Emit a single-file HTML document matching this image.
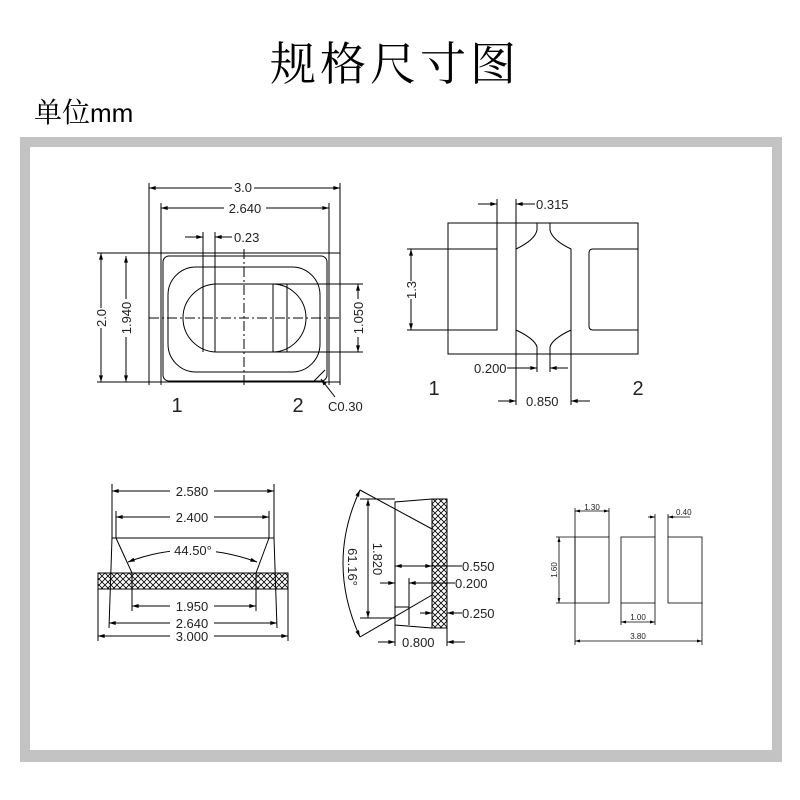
<!DOCTYPE html>
<html><head><meta charset="utf-8"><style>
html,body{margin:0;padding:0;background:#fff;width:800px;height:800px;overflow:hidden}
svg{display:block}
.t{font-family:"Liberation Sans",sans-serif;font-size:13px;fill:#222}
.s{font-family:"Liberation Sans",sans-serif;font-size:8px;fill:#222}
</style></head><body>
<svg width="800" height="800" viewBox="0 0 800 800" xmlns="http://www.w3.org/2000/svg">
<defs>
<marker id="a" viewBox="0 0 10 6" refX="10" refY="3" markerWidth="9" markerHeight="4" orient="auto-start-reverse" markerUnits="userSpaceOnUse"><path d="M0,0L10,3L0,6z" fill="#000"/></marker>
<marker id="b" viewBox="0 0 10 6" refX="10" refY="3" markerWidth="6" markerHeight="3" orient="auto-start-reverse" markerUnits="userSpaceOnUse"><path d="M0,0L10,3L0,6z" fill="#000"/></marker>
<pattern id="h" width="6" height="6" patternUnits="userSpaceOnUse"><path d="M0,0L6,6M6,0L0,6" stroke="#000" stroke-width="0.8"/></pattern>
</defs>
<text x="395" y="80" text-anchor="middle" style="font-family:'Noto Serif CJK SC',serif;font-size:46px;letter-spacing:4px" fill="#000">规格尺寸图</text>
<text x="34" y="122" style="font-family:'Noto Serif CJK SC',serif;font-size:28px" fill="#000">单位<tspan style="font-family:'Liberation Sans Narrow','Liberation Sans',sans-serif;font-size:26px">mm</tspan></text>
<rect x="25" y="142" width="752" height="614" fill="none" stroke="#c3c3c3" stroke-width="10"/>
<rect x="20" y="750" width="762" height="12" fill="#c3c3c3"/>

<g stroke="#000" stroke-width="1" fill="none">
<line x1="149" y1="183" x2="149" y2="385"/><line x1="340" y1="183" x2="340" y2="385"/>
<line x1="161" y1="203" x2="161" y2="385"/><line x1="329" y1="203" x2="329" y2="385"/>
<line x1="97" y1="253" x2="340" y2="253"/><line x1="97" y1="382" x2="340" y2="382"/>
<line x1="149" y1="188" x2="340" y2="188" marker-start="url(#a)" marker-end="url(#a)"/>
<line x1="161" y1="208" x2="329" y2="208" marker-start="url(#a)" marker-end="url(#a)"/>
<line x1="101" y1="253" x2="101" y2="382" marker-start="url(#a)" marker-end="url(#a)"/>
<line x1="126" y1="256" x2="126" y2="382" marker-start="url(#a)" marker-end="url(#a)"/>
<rect x="163" y="256" width="164" height="125" rx="6"/>
<rect x="168" y="267" width="152" height="105" rx="28"/>
<rect x="183" y="284" width="123" height="68" rx="34"/>
<line x1="203" y1="232" x2="203" y2="352"/><line x1="215" y1="232" x2="215" y2="352"/>
<line x1="273" y1="284" x2="273" y2="352"/><line x1="287" y1="284" x2="287" y2="352"/>
<line x1="185" y1="237" x2="203" y2="237" marker-end="url(#a)"/><line x1="232" y1="237" x2="215" y2="237" marker-end="url(#a)"/>
<line x1="244" y1="249" x2="244" y2="386" stroke-dasharray="10,3,2,3"/>
<line x1="149" y1="318" x2="340" y2="318" stroke-dasharray="10,3,2,3"/>
<line x1="215" y1="284" x2="363" y2="284"/><line x1="258" y1="352" x2="363" y2="352"/>
<line x1="358" y1="284" x2="358" y2="352" marker-start="url(#a)" marker-end="url(#a)"/>
<line x1="335" y1="397" x2="321" y2="379" marker-end="url(#a)"/>
<line x1="314" y1="381" x2="325" y2="370"/>
</g>
<g class="t">
<rect x="232" y="181" width="22" height="12" fill="#fff"/><text x="243" y="192" text-anchor="middle">3.0</text>
<rect x="224" y="202" width="42" height="12" fill="#fff"/><text x="245" y="213" text-anchor="middle">2.640</text>
<text x="234" y="242">0.23</text>
<g transform="translate(106,318) rotate(-90)"><rect x="-10" y="-7" width="20" height="12" fill="#fff"/><text x="0" y="0" text-anchor="middle">2.0</text></g>
<g transform="translate(131,318) rotate(-90)"><rect x="-19" y="-7" width="38" height="12" fill="#fff"/><text x="0" y="0" text-anchor="middle">1.940</text></g>
<g transform="translate(363,318) rotate(-90)"><rect x="-19" y="-7" width="38" height="12" fill="#fff"/><text x="0" y="0" text-anchor="middle">1.050</text></g>
<text x="328" y="411">C0.30</text>
<text x="177" y="412" text-anchor="middle" style="font-size:20px;font-weight:100">1</text>
<text x="298" y="412" text-anchor="middle" style="font-size:20px">2</text>
</g>

<g stroke="#000" stroke-width="1" fill="none">
<rect x="448" y="223" width="190" height="131"/>
<path d="M448,249 L497,249 L497,330 L448,330"/>
<path d="M638,249 L593,249 Q589,249 589,253 L589,326 Q589,330 593,330 L638,330"/>
<path d="M537,223 L537,230 Q535,240 516,249 L516,330 Q535,339 537,347 L537,354"/>
<path d="M550,223 L550,230 Q552,240 571,249 L571,330 Q552,339 550,347 L550,354"/>
<line x1="497" y1="199" x2="497" y2="249"/><line x1="516" y1="199" x2="516" y2="405"/>
<line x1="571" y1="330" x2="571" y2="405"/>
<line x1="478" y1="204" x2="497" y2="204" marker-end="url(#a)"/><line x1="535" y1="204" x2="516" y2="204" marker-end="url(#a)"/>
<line x1="407" y1="249" x2="497" y2="249"/><line x1="407" y1="330" x2="497" y2="330"/>
<line x1="411" y1="249" x2="411" y2="330" marker-start="url(#a)" marker-end="url(#a)"/>
<line x1="537" y1="354" x2="537" y2="372"/><line x1="550" y1="354" x2="550" y2="372"/>
<line x1="507" y1="368" x2="537" y2="368" marker-end="url(#a)"/><line x1="568" y1="368" x2="550" y2="368" marker-end="url(#a)"/>
<line x1="498" y1="401" x2="516" y2="401" marker-end="url(#a)"/><line x1="590" y1="401" x2="571" y2="401" marker-end="url(#a)"/>
</g>
<g class="t">
<text x="536" y="209">0.315</text>
<g transform="translate(416,290) rotate(-90)"><rect x="-9" y="-7" width="18" height="12" fill="#fff"/><text x="0" y="0" text-anchor="middle">1.3</text></g>
<text x="474" y="373">0.200</text>
<rect x="523" y="395" width="40" height="12" fill="#fff"/><text x="526" y="406">0.850</text>
<text x="434" y="395" text-anchor="middle" style="font-size:20px">1</text>
<text x="638" y="395" text-anchor="middle" style="font-size:20px">2</text>
</g>

<g stroke="#000" stroke-width="1" fill="none">
<rect x="98" y="573" width="190" height="16" fill="url(#h)"/>
<line x1="112" y1="484" x2="112" y2="538"/><line x1="274" y1="484" x2="274" y2="538"/>
<line x1="116" y1="511" x2="116" y2="538"/><line x1="269" y1="511" x2="269" y2="538"/>
<line x1="112" y1="538" x2="274" y2="538"/>
<line x1="112" y1="538" x2="109" y2="628"/><line x1="274" y1="538" x2="277" y2="628"/>
<line x1="116" y1="538" x2="132" y2="573"/><line x1="269" y1="538" x2="256" y2="573"/>
<line x1="132" y1="573" x2="132" y2="611"/><line x1="256" y1="573" x2="256" y2="611"/>
<line x1="98" y1="589" x2="98" y2="641"/><line x1="288" y1="589" x2="288" y2="641"/>
<line x1="112" y1="491" x2="274" y2="491" marker-start="url(#a)" marker-end="url(#a)"/>
<line x1="116" y1="517" x2="269" y2="517" marker-start="url(#a)" marker-end="url(#a)"/>
<path d="M128,562 Q190,538 257,562" marker-start="url(#a)" marker-end="url(#a)"/>
<line x1="132" y1="606" x2="256" y2="606" marker-start="url(#a)" marker-end="url(#a)"/>
<line x1="109" y1="623" x2="277" y2="623" marker-start="url(#a)" marker-end="url(#a)"/>
<line x1="98" y1="636" x2="288" y2="636" marker-start="url(#a)" marker-end="url(#a)"/>
</g>
<g class="t">
<rect x="170" y="485" width="44" height="12" fill="#fff"/><text x="192" y="496" text-anchor="middle">2.580</text>
<rect x="170" y="511" width="44" height="12" fill="#fff"/><text x="192" y="522" text-anchor="middle">2.400</text>
<rect x="170" y="544" width="46" height="12" fill="#fff"/><text x="193" y="555" text-anchor="middle">44.50°</text>
<rect x="170" y="600" width="44" height="12" fill="#fff"/><text x="192" y="611" text-anchor="middle">1.950</text>
<rect x="170" y="617" width="44" height="12" fill="#fff"/><text x="192" y="628" text-anchor="middle">2.640</text>
<rect x="170" y="630" width="44" height="12" fill="#fff"/><text x="192" y="641" text-anchor="middle">3.000</text>
</g>

<g stroke="#000" stroke-width="1" fill="none">
<rect x="432" y="499" width="15" height="129" fill="url(#h)"/>
<path d="M432,499 L395,502 L395,625 L432,628"/>
<line x1="360" y1="490" x2="432" y2="529"/>
<line x1="360" y1="637" x2="432" y2="595"/>
<path d="M360,490 Q326,563 360,637" marker-start="url(#a)" marker-end="url(#a)"/>
<line x1="360" y1="499" x2="395" y2="499"/><line x1="360" y1="618" x2="395" y2="618"/>
<line x1="368" y1="499" x2="368" y2="618" marker-start="url(#a)" marker-end="url(#a)"/>
<path d="M395,607 L409,607 L409,578"/><line x1="409" y1="607" x2="409" y2="625"/>
<line x1="395" y1="566" x2="432" y2="566" marker-start="url(#a)" marker-end="url(#a)"/>
<line x1="432" y1="566" x2="462" y2="566"/>
<line x1="380" y1="583" x2="395" y2="583" marker-end="url(#a)"/><line x1="424" y1="583" x2="409" y2="583" marker-end="url(#a)"/>
<line x1="409" y1="583" x2="455" y2="583"/>
<line x1="420" y1="613" x2="432" y2="613" marker-end="url(#a)"/><line x1="462" y1="613" x2="447" y2="613" marker-end="url(#a)"/>
<line x1="395" y1="625" x2="395" y2="646"/><line x1="447" y1="628" x2="447" y2="646"/>
<line x1="378" y1="642" x2="395" y2="642" marker-end="url(#a)"/><line x1="465" y1="642" x2="447" y2="642" marker-end="url(#a)"/>
</g>
<g class="t">
<g transform="translate(373,559) rotate(90)"><rect x="-19" y="-10" width="38" height="12" fill="#fff"/><text x="0" y="0" text-anchor="middle">1.820</text></g>
<g transform="translate(348,567) rotate(90)"><rect x="-17" y="-10" width="34" height="12" fill="#fff"/><text x="0" y="0" text-anchor="middle">61.16°</text></g>
<text x="462" y="571">0.550</text>
<text x="455" y="588">0.200</text>
<text x="462" y="618">0.250</text>
<rect x="400" y="636" width="42" height="12" fill="#fff"/><text x="402" y="647">0.800</text>
</g>

<g stroke="#000" stroke-width="0.8" fill="none">
<rect x="575" y="537" width="34" height="66"/>
<rect x="621" y="537" width="34" height="66"/>
<rect x="668" y="537" width="34" height="66"/>
<line x1="575" y1="508" x2="575" y2="645"/><line x1="609" y1="508" x2="609" y2="537"/>
<line x1="575" y1="511" x2="609" y2="511" marker-start="url(#b)" marker-end="url(#b)"/>
<line x1="655" y1="514" x2="655" y2="537"/><line x1="668" y1="514" x2="668" y2="537"/>
<line x1="648" y1="517" x2="655" y2="517" marker-end="url(#b)"/><line x1="675" y1="517" x2="668" y2="517" marker-end="url(#b)"/>
<line x1="668" y1="517" x2="690" y2="517"/>
<line x1="556" y1="537" x2="575" y2="537"/><line x1="556" y1="603" x2="575" y2="603"/>
<line x1="559" y1="537" x2="559" y2="603" marker-start="url(#b)" marker-end="url(#b)"/>
<line x1="621" y1="603" x2="621" y2="625"/><line x1="655" y1="603" x2="655" y2="625"/>
<line x1="621" y1="622" x2="655" y2="622" marker-start="url(#b)" marker-end="url(#b)"/>
<line x1="702" y1="603" x2="702" y2="645"/>
<line x1="575" y1="641" x2="702" y2="641" marker-start="url(#b)" marker-end="url(#b)"/>
</g>
<g class="s">
<text x="592" y="510" text-anchor="middle">1.30</text>
<text x="676" y="515">0.40</text>
<g transform="translate(557,570) rotate(-90)"><text x="0" y="0" text-anchor="middle">1.60</text></g>
<text x="638" y="620" text-anchor="middle">1.00</text>
<text x="638" y="639" text-anchor="middle">3.80</text>
</g>
</svg>
</body></html>
